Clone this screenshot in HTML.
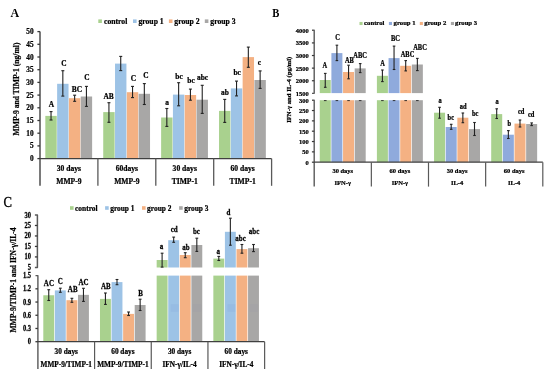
<!DOCTYPE html>
<html><head><meta charset="utf-8"><style>
html,body{margin:0;padding:0;background:#fff;}
svg{display:block;will-change:transform;filter:blur(0.3px);}
</style></head><body>
<svg width="550" height="379" viewBox="0 0 550 379">
<rect width="550" height="379" fill="#fff"/>
<g font-family="Liberation Serif, serif" font-weight="bold" fill="#000" stroke="#000" stroke-width="0.22">
<rect x="45.33" y="115.90" width="11.40" height="42.70" fill="#A9D18E" stroke="none"/>
<line x1="51.03" y1="111.60" x2="51.03" y2="120.00" stroke="#222" stroke-width="1.1"/>
<line x1="49.53" y1="111.60" x2="52.53" y2="111.60" stroke="#222" stroke-width="1.1"/>
<line x1="49.53" y1="120.00" x2="52.53" y2="120.00" stroke="#222" stroke-width="1.1"/>
<rect x="57.13" y="83.80" width="11.40" height="74.80" fill="#9DC3E6" stroke="none"/>
<line x1="62.83" y1="70.70" x2="62.83" y2="96.10" stroke="#222" stroke-width="1.1"/>
<line x1="61.33" y1="70.70" x2="64.33" y2="70.70" stroke="#222" stroke-width="1.1"/>
<line x1="61.33" y1="96.10" x2="64.33" y2="96.10" stroke="#222" stroke-width="1.1"/>
<rect x="68.93" y="98.20" width="11.40" height="60.40" fill="#F4B183" stroke="none"/>
<line x1="74.63" y1="95.20" x2="74.63" y2="101.30" stroke="#222" stroke-width="1.1"/>
<line x1="73.13" y1="95.20" x2="76.13" y2="95.20" stroke="#222" stroke-width="1.1"/>
<line x1="73.13" y1="101.30" x2="76.13" y2="101.30" stroke="#222" stroke-width="1.1"/>
<rect x="80.73" y="96.50" width="11.40" height="62.10" fill="#A8A7A6" stroke="none"/>
<line x1="86.43" y1="86.40" x2="86.43" y2="106.40" stroke="#222" stroke-width="1.1"/>
<line x1="84.93" y1="86.40" x2="87.93" y2="86.40" stroke="#222" stroke-width="1.1"/>
<line x1="84.93" y1="106.40" x2="87.93" y2="106.40" stroke="#222" stroke-width="1.1"/>
<rect x="103.23" y="112.10" width="11.40" height="46.50" fill="#A9D18E" stroke="none"/>
<line x1="108.93" y1="102.70" x2="108.93" y2="122.30" stroke="#222" stroke-width="1.1"/>
<line x1="107.43" y1="102.70" x2="110.43" y2="102.70" stroke="#222" stroke-width="1.1"/>
<line x1="107.43" y1="122.30" x2="110.43" y2="122.30" stroke="#222" stroke-width="1.1"/>
<rect x="115.03" y="63.60" width="11.40" height="95.00" fill="#9DC3E6" stroke="none"/>
<line x1="120.73" y1="56.40" x2="120.73" y2="70.60" stroke="#222" stroke-width="1.1"/>
<line x1="119.23" y1="56.40" x2="122.23" y2="56.40" stroke="#222" stroke-width="1.1"/>
<line x1="119.23" y1="70.60" x2="122.23" y2="70.60" stroke="#222" stroke-width="1.1"/>
<rect x="126.83" y="92.20" width="11.40" height="66.40" fill="#F4B183" stroke="none"/>
<line x1="132.53" y1="86.40" x2="132.53" y2="97.60" stroke="#222" stroke-width="1.1"/>
<line x1="131.03" y1="86.40" x2="134.03" y2="86.40" stroke="#222" stroke-width="1.1"/>
<line x1="131.03" y1="97.60" x2="134.03" y2="97.60" stroke="#222" stroke-width="1.1"/>
<rect x="138.63" y="93.80" width="11.40" height="64.80" fill="#A8A7A6" stroke="none"/>
<line x1="144.33" y1="83.60" x2="144.33" y2="104.50" stroke="#222" stroke-width="1.1"/>
<line x1="142.83" y1="83.60" x2="145.83" y2="83.60" stroke="#222" stroke-width="1.1"/>
<line x1="142.83" y1="104.50" x2="145.83" y2="104.50" stroke="#222" stroke-width="1.1"/>
<rect x="161.13" y="117.50" width="11.40" height="41.10" fill="#A9D18E" stroke="none"/>
<line x1="166.83" y1="108.50" x2="166.83" y2="126.40" stroke="#222" stroke-width="1.1"/>
<line x1="165.33" y1="108.50" x2="168.33" y2="108.50" stroke="#222" stroke-width="1.1"/>
<line x1="165.33" y1="126.40" x2="168.33" y2="126.40" stroke="#222" stroke-width="1.1"/>
<rect x="172.93" y="94.60" width="11.40" height="64.00" fill="#9DC3E6" stroke="none"/>
<line x1="178.63" y1="82.70" x2="178.63" y2="105.80" stroke="#222" stroke-width="1.1"/>
<line x1="177.13" y1="82.70" x2="180.13" y2="82.70" stroke="#222" stroke-width="1.1"/>
<line x1="177.13" y1="105.80" x2="180.13" y2="105.80" stroke="#222" stroke-width="1.1"/>
<rect x="184.73" y="95.00" width="11.40" height="63.60" fill="#F4B183" stroke="none"/>
<line x1="190.43" y1="89.10" x2="190.43" y2="100.20" stroke="#222" stroke-width="1.1"/>
<line x1="188.93" y1="89.10" x2="191.93" y2="89.10" stroke="#222" stroke-width="1.1"/>
<line x1="188.93" y1="100.20" x2="191.93" y2="100.20" stroke="#222" stroke-width="1.1"/>
<rect x="196.53" y="99.70" width="11.40" height="58.90" fill="#A8A7A6" stroke="none"/>
<line x1="202.23" y1="85.30" x2="202.23" y2="113.40" stroke="#222" stroke-width="1.1"/>
<line x1="200.73" y1="85.30" x2="203.73" y2="85.30" stroke="#222" stroke-width="1.1"/>
<line x1="200.73" y1="113.40" x2="203.73" y2="113.40" stroke="#222" stroke-width="1.1"/>
<rect x="219.03" y="110.90" width="11.40" height="47.70" fill="#A9D18E" stroke="none"/>
<line x1="224.73" y1="99.40" x2="224.73" y2="122.40" stroke="#222" stroke-width="1.1"/>
<line x1="223.23" y1="99.40" x2="226.23" y2="99.40" stroke="#222" stroke-width="1.1"/>
<line x1="223.23" y1="122.40" x2="226.23" y2="122.40" stroke="#222" stroke-width="1.1"/>
<rect x="230.83" y="88.40" width="11.40" height="70.20" fill="#9DC3E6" stroke="none"/>
<line x1="236.53" y1="81.10" x2="236.53" y2="95.90" stroke="#222" stroke-width="1.1"/>
<line x1="235.03" y1="81.10" x2="238.03" y2="81.10" stroke="#222" stroke-width="1.1"/>
<line x1="235.03" y1="95.90" x2="238.03" y2="95.90" stroke="#222" stroke-width="1.1"/>
<rect x="242.63" y="57.10" width="11.40" height="101.50" fill="#F4B183" stroke="none"/>
<line x1="248.33" y1="47.10" x2="248.33" y2="67.30" stroke="#222" stroke-width="1.1"/>
<line x1="246.83" y1="47.10" x2="249.83" y2="47.10" stroke="#222" stroke-width="1.1"/>
<line x1="246.83" y1="67.30" x2="249.83" y2="67.30" stroke="#222" stroke-width="1.1"/>
<rect x="254.43" y="80.00" width="11.40" height="78.60" fill="#A8A7A6" stroke="none"/>
<line x1="260.13" y1="70.90" x2="260.13" y2="88.40" stroke="#222" stroke-width="1.1"/>
<line x1="258.63" y1="70.90" x2="261.63" y2="70.90" stroke="#222" stroke-width="1.1"/>
<line x1="258.63" y1="88.40" x2="261.63" y2="88.40" stroke="#222" stroke-width="1.1"/>
<line x1="40.00" y1="31.60" x2="40.00" y2="185.80" stroke="#595959" stroke-width="1.6"/>
<line x1="40.00" y1="158.60" x2="271.60" y2="158.60" stroke="#404040" stroke-width="1.4"/>
<line x1="97.90" y1="158.60" x2="97.90" y2="185.80" stroke="#595959" stroke-width="1.3"/>
<line x1="155.80" y1="158.60" x2="155.80" y2="185.80" stroke="#595959" stroke-width="1.3"/>
<line x1="213.70" y1="158.60" x2="213.70" y2="185.80" stroke="#595959" stroke-width="1.3"/>
<line x1="271.60" y1="158.60" x2="271.60" y2="185.80" stroke="#595959" stroke-width="1.3"/>
<line x1="37.40" y1="158.60" x2="40.00" y2="158.60" stroke="#383838" stroke-width="1.3"/>
<text x="33.60" y="161.10" font-size="7.3" text-anchor="end">0</text>
<line x1="37.40" y1="145.90" x2="40.00" y2="145.90" stroke="#383838" stroke-width="1.3"/>
<text x="33.60" y="148.40" font-size="7.3" text-anchor="end">5</text>
<line x1="37.40" y1="133.20" x2="40.00" y2="133.20" stroke="#383838" stroke-width="1.3"/>
<text x="33.60" y="135.70" font-size="7.3" text-anchor="end">10</text>
<line x1="37.40" y1="120.50" x2="40.00" y2="120.50" stroke="#383838" stroke-width="1.3"/>
<text x="33.60" y="123.00" font-size="7.3" text-anchor="end">15</text>
<line x1="37.40" y1="107.80" x2="40.00" y2="107.80" stroke="#383838" stroke-width="1.3"/>
<text x="33.60" y="110.30" font-size="7.3" text-anchor="end">20</text>
<line x1="37.40" y1="95.10" x2="40.00" y2="95.10" stroke="#383838" stroke-width="1.3"/>
<text x="33.60" y="97.60" font-size="7.3" text-anchor="end">25</text>
<line x1="37.40" y1="82.40" x2="40.00" y2="82.40" stroke="#383838" stroke-width="1.3"/>
<text x="33.60" y="84.90" font-size="7.3" text-anchor="end">30</text>
<line x1="37.40" y1="69.70" x2="40.00" y2="69.70" stroke="#383838" stroke-width="1.3"/>
<text x="33.60" y="72.20" font-size="7.3" text-anchor="end">35</text>
<line x1="37.40" y1="57.00" x2="40.00" y2="57.00" stroke="#383838" stroke-width="1.3"/>
<text x="33.60" y="59.50" font-size="7.3" text-anchor="end">40</text>
<line x1="37.40" y1="44.30" x2="40.00" y2="44.30" stroke="#383838" stroke-width="1.3"/>
<text x="33.60" y="46.80" font-size="7.3" text-anchor="end">45</text>
<line x1="37.40" y1="31.60" x2="40.00" y2="31.60" stroke="#383838" stroke-width="1.3"/>
<text x="33.60" y="34.10" font-size="7.3" text-anchor="end">50</text>
<text x="51.30" y="106.50" font-size="7.4" text-anchor="middle">A</text>
<text x="63.90" y="66.40" font-size="7.4" text-anchor="middle">C</text>
<text x="77.00" y="91.50" font-size="7.4" text-anchor="middle">BC</text>
<text x="86.90" y="80.30" font-size="7.4" text-anchor="middle">C</text>
<text x="108.60" y="98.80" font-size="7.4" text-anchor="middle">AB</text>
<text x="133.50" y="81.10" font-size="7.4" text-anchor="middle">C</text>
<text x="145.90" y="77.90" font-size="7.4" text-anchor="middle">C</text>
<text x="167.10" y="105.20" font-size="7.4" text-anchor="middle">a</text>
<text x="179.00" y="78.90" font-size="7.4" text-anchor="middle">bc</text>
<text x="191.00" y="82.50" font-size="7.4" text-anchor="middle">bc</text>
<text x="202.60" y="79.50" font-size="7.4" text-anchor="middle">abc</text>
<text x="224.90" y="95.00" font-size="7.4" text-anchor="middle">ab</text>
<text x="237.20" y="74.50" font-size="7.4" text-anchor="middle">bc</text>
<text x="259.30" y="64.70" font-size="7.4" text-anchor="middle">c</text>
<text x="68.95" y="170.70" font-size="7.6" text-anchor="middle">30 days</text>
<text x="68.95" y="184.40" font-size="7.6" text-anchor="middle">MMP-9</text>
<text x="126.85" y="170.70" font-size="7.6" text-anchor="middle">60days</text>
<text x="126.85" y="184.40" font-size="7.6" text-anchor="middle">MMP-9</text>
<text x="184.75" y="170.70" font-size="7.6" text-anchor="middle">30 days</text>
<text x="184.75" y="184.40" font-size="7.6" text-anchor="middle">TIMP-1</text>
<text x="242.65" y="170.70" font-size="7.6" text-anchor="middle">60 days</text>
<text x="242.65" y="184.40" font-size="7.6" text-anchor="middle">TIMP-1</text>
<rect x="98.30" y="19.40" width="3.60" height="3.60" fill="#A9D18E" stroke="none"/>
<text x="104.00" y="23.60" font-size="7.7" text-anchor="start">control</text>
<rect x="133.00" y="19.40" width="3.60" height="3.60" fill="#9DC3E6" stroke="none"/>
<text x="138.40" y="23.60" font-size="7.7" text-anchor="start">group 1</text>
<rect x="168.90" y="19.40" width="3.60" height="3.60" fill="#F4B183" stroke="none"/>
<text x="174.30" y="23.60" font-size="7.7" text-anchor="start">group 2</text>
<rect x="204.80" y="19.40" width="3.60" height="3.60" fill="#A8A7A6" stroke="none"/>
<text x="210.30" y="23.60" font-size="7.7" text-anchor="start">group 3</text>
<text transform="translate(10.6,16.8) scale(0.9,1)" font-size="13.3" stroke-width="0">A</text>
<text transform="translate(19.0,89) rotate(-90)" font-size="7.6" text-anchor="middle">MMP-9 and TIMP-1 (ng/ml)</text>
<rect x="319.75" y="80.00" width="11.00" height="13.10" fill="#A9D18E" stroke="none"/>
<line x1="325.25" y1="73.40" x2="325.25" y2="87.30" stroke="#222" stroke-width="1.1"/>
<line x1="323.95" y1="73.40" x2="326.55" y2="73.40" stroke="#222" stroke-width="1.1"/>
<line x1="323.95" y1="87.30" x2="326.55" y2="87.30" stroke="#222" stroke-width="1.1"/>
<rect x="331.40" y="53.10" width="11.00" height="40.00" fill="#8FAADC" stroke="none"/>
<line x1="336.90" y1="45.20" x2="336.90" y2="60.60" stroke="#222" stroke-width="1.1"/>
<line x1="335.60" y1="45.20" x2="338.20" y2="45.20" stroke="#222" stroke-width="1.1"/>
<line x1="335.60" y1="60.60" x2="338.20" y2="60.60" stroke="#222" stroke-width="1.1"/>
<rect x="343.05" y="72.00" width="11.00" height="21.10" fill="#F4B183" stroke="none"/>
<line x1="348.55" y1="65.20" x2="348.55" y2="78.80" stroke="#222" stroke-width="1.1"/>
<line x1="347.25" y1="65.20" x2="349.85" y2="65.20" stroke="#222" stroke-width="1.1"/>
<line x1="347.25" y1="78.80" x2="349.85" y2="78.80" stroke="#222" stroke-width="1.1"/>
<rect x="354.70" y="68.40" width="11.00" height="24.70" fill="#A8A7A6" stroke="none"/>
<line x1="360.20" y1="63.60" x2="360.20" y2="72.60" stroke="#222" stroke-width="1.1"/>
<line x1="358.90" y1="63.60" x2="361.50" y2="63.60" stroke="#222" stroke-width="1.1"/>
<line x1="358.90" y1="72.60" x2="361.50" y2="72.60" stroke="#222" stroke-width="1.1"/>
<rect x="376.90" y="75.80" width="11.00" height="17.30" fill="#A9D18E" stroke="none"/>
<line x1="382.40" y1="70.00" x2="382.40" y2="81.60" stroke="#222" stroke-width="1.1"/>
<line x1="381.10" y1="70.00" x2="383.70" y2="70.00" stroke="#222" stroke-width="1.1"/>
<line x1="381.10" y1="81.60" x2="383.70" y2="81.60" stroke="#222" stroke-width="1.1"/>
<rect x="388.55" y="58.10" width="11.00" height="35.00" fill="#8FAADC" stroke="none"/>
<line x1="394.05" y1="46.10" x2="394.05" y2="69.50" stroke="#222" stroke-width="1.1"/>
<line x1="392.75" y1="46.10" x2="395.35" y2="46.10" stroke="#222" stroke-width="1.1"/>
<line x1="392.75" y1="69.50" x2="395.35" y2="69.50" stroke="#222" stroke-width="1.1"/>
<rect x="400.20" y="65.80" width="11.00" height="27.30" fill="#F4B183" stroke="none"/>
<line x1="405.70" y1="60.60" x2="405.70" y2="70.90" stroke="#222" stroke-width="1.1"/>
<line x1="404.40" y1="60.60" x2="407.00" y2="60.60" stroke="#222" stroke-width="1.1"/>
<line x1="404.40" y1="70.90" x2="407.00" y2="70.90" stroke="#222" stroke-width="1.1"/>
<rect x="411.85" y="64.50" width="11.00" height="28.60" fill="#A8A7A6" stroke="none"/>
<line x1="417.35" y1="58.40" x2="417.35" y2="70.60" stroke="#222" stroke-width="1.1"/>
<line x1="416.05" y1="58.40" x2="418.65" y2="58.40" stroke="#222" stroke-width="1.1"/>
<line x1="416.05" y1="70.60" x2="418.65" y2="70.60" stroke="#222" stroke-width="1.1"/>
<rect x="319.75" y="100.20" width="11.00" height="62.00" fill="#A9D18E" stroke="none"/>
<line x1="323.95" y1="100.60" x2="326.55" y2="100.60" stroke="#222" stroke-width="0.9"/>
<rect x="331.40" y="100.20" width="11.00" height="62.00" fill="#8FAADC" stroke="none"/>
<line x1="335.60" y1="100.60" x2="338.20" y2="100.60" stroke="#222" stroke-width="0.9"/>
<rect x="343.05" y="100.20" width="11.00" height="62.00" fill="#F4B183" stroke="none"/>
<line x1="347.25" y1="100.60" x2="349.85" y2="100.60" stroke="#222" stroke-width="0.9"/>
<rect x="354.70" y="100.20" width="11.00" height="62.00" fill="#A8A7A6" stroke="none"/>
<line x1="358.90" y1="100.60" x2="361.50" y2="100.60" stroke="#222" stroke-width="0.9"/>
<rect x="376.90" y="100.20" width="11.00" height="62.00" fill="#A9D18E" stroke="none"/>
<line x1="381.10" y1="100.60" x2="383.70" y2="100.60" stroke="#222" stroke-width="0.9"/>
<rect x="388.55" y="100.20" width="11.00" height="62.00" fill="#8FAADC" stroke="none"/>
<line x1="392.75" y1="100.60" x2="395.35" y2="100.60" stroke="#222" stroke-width="0.9"/>
<rect x="400.20" y="100.20" width="11.00" height="62.00" fill="#F4B183" stroke="none"/>
<line x1="404.40" y1="100.60" x2="407.00" y2="100.60" stroke="#222" stroke-width="0.9"/>
<rect x="411.85" y="100.20" width="11.00" height="62.00" fill="#A8A7A6" stroke="none"/>
<line x1="416.05" y1="100.60" x2="418.65" y2="100.60" stroke="#222" stroke-width="0.9"/>
<rect x="434.05" y="112.70" width="11.00" height="49.50" fill="#A9D18E" stroke="none"/>
<line x1="439.55" y1="107.30" x2="439.55" y2="118.20" stroke="#222" stroke-width="1.1"/>
<line x1="438.25" y1="107.30" x2="440.85" y2="107.30" stroke="#222" stroke-width="1.1"/>
<line x1="438.25" y1="118.20" x2="440.85" y2="118.20" stroke="#222" stroke-width="1.1"/>
<rect x="445.70" y="127.00" width="11.00" height="35.20" fill="#8FAADC" stroke="none"/>
<line x1="451.20" y1="124.30" x2="451.20" y2="129.30" stroke="#222" stroke-width="1.1"/>
<line x1="449.90" y1="124.30" x2="452.50" y2="124.30" stroke="#222" stroke-width="1.1"/>
<line x1="449.90" y1="129.30" x2="452.50" y2="129.30" stroke="#222" stroke-width="1.1"/>
<rect x="457.35" y="117.70" width="11.00" height="44.50" fill="#F4B183" stroke="none"/>
<line x1="462.85" y1="113.00" x2="462.85" y2="122.70" stroke="#222" stroke-width="1.1"/>
<line x1="461.55" y1="113.00" x2="464.15" y2="113.00" stroke="#222" stroke-width="1.1"/>
<line x1="461.55" y1="122.70" x2="464.15" y2="122.70" stroke="#222" stroke-width="1.1"/>
<rect x="469.00" y="129.10" width="11.00" height="33.10" fill="#A8A7A6" stroke="none"/>
<line x1="474.50" y1="122.50" x2="474.50" y2="135.50" stroke="#222" stroke-width="1.1"/>
<line x1="473.20" y1="122.50" x2="475.80" y2="122.50" stroke="#222" stroke-width="1.1"/>
<line x1="473.20" y1="135.50" x2="475.80" y2="135.50" stroke="#222" stroke-width="1.1"/>
<rect x="491.20" y="114.10" width="11.00" height="48.10" fill="#A9D18E" stroke="none"/>
<line x1="496.70" y1="108.80" x2="496.70" y2="118.50" stroke="#222" stroke-width="1.1"/>
<line x1="495.40" y1="108.80" x2="498.00" y2="108.80" stroke="#222" stroke-width="1.1"/>
<line x1="495.40" y1="118.50" x2="498.00" y2="118.50" stroke="#222" stroke-width="1.1"/>
<rect x="502.85" y="134.70" width="11.00" height="27.50" fill="#8FAADC" stroke="none"/>
<line x1="508.35" y1="130.60" x2="508.35" y2="138.50" stroke="#222" stroke-width="1.1"/>
<line x1="507.05" y1="130.60" x2="509.65" y2="130.60" stroke="#222" stroke-width="1.1"/>
<line x1="507.05" y1="138.50" x2="509.65" y2="138.50" stroke="#222" stroke-width="1.1"/>
<rect x="514.50" y="123.60" width="11.00" height="38.60" fill="#F4B183" stroke="none"/>
<line x1="520.00" y1="120.00" x2="520.00" y2="127.00" stroke="#222" stroke-width="1.1"/>
<line x1="518.70" y1="120.00" x2="521.30" y2="120.00" stroke="#222" stroke-width="1.1"/>
<line x1="518.70" y1="127.00" x2="521.30" y2="127.00" stroke="#222" stroke-width="1.1"/>
<rect x="526.15" y="124.00" width="11.00" height="38.20" fill="#A8A7A6" stroke="none"/>
<line x1="531.65" y1="122.90" x2="531.65" y2="125.60" stroke="#222" stroke-width="1.1"/>
<line x1="530.35" y1="122.90" x2="532.95" y2="122.90" stroke="#222" stroke-width="1.1"/>
<line x1="530.35" y1="125.60" x2="532.95" y2="125.60" stroke="#222" stroke-width="1.1"/>
<path d="M312.00,30.30 L314.20,30.30 L314.20,93.35 L312.00,93.35" fill="none" stroke="#595959" stroke-width="1.4" stroke-linejoin="round"/>
<path d="M312.00,100.20 L314.20,100.20 L314.20,186.6" fill="none" stroke="#595959" stroke-width="1.4" stroke-linejoin="round"/>
<line x1="314.20" y1="162.20" x2="542.80" y2="162.20" stroke="#404040" stroke-width="1.3"/>
<line x1="371.35" y1="162.20" x2="371.35" y2="186.60" stroke="#595959" stroke-width="1.2"/>
<line x1="428.50" y1="162.20" x2="428.50" y2="186.60" stroke="#595959" stroke-width="1.2"/>
<line x1="485.65" y1="162.20" x2="485.65" y2="186.60" stroke="#595959" stroke-width="1.2"/>
<line x1="542.80" y1="162.20" x2="542.80" y2="186.60" stroke="#595959" stroke-width="1.2"/>
<text transform="translate(308.70,164.65) scale(1.0,1.1)" font-size="6.5" text-anchor="end">0</text>
<line x1="311.90" y1="151.87" x2="314.20" y2="151.87" stroke="#383838" stroke-width="1.2"/>
<text transform="translate(308.70,154.32) scale(1.0,1.1)" font-size="6.5" text-anchor="end">50</text>
<line x1="311.90" y1="141.53" x2="314.20" y2="141.53" stroke="#383838" stroke-width="1.2"/>
<text transform="translate(308.70,143.98) scale(1.0,1.1)" font-size="6.5" text-anchor="end">100</text>
<line x1="311.90" y1="131.20" x2="314.20" y2="131.20" stroke="#383838" stroke-width="1.2"/>
<text transform="translate(308.70,133.65) scale(1.0,1.1)" font-size="6.5" text-anchor="end">150</text>
<line x1="311.90" y1="120.87" x2="314.20" y2="120.87" stroke="#383838" stroke-width="1.2"/>
<text transform="translate(308.70,123.32) scale(1.0,1.1)" font-size="6.5" text-anchor="end">200</text>
<line x1="311.90" y1="110.53" x2="314.20" y2="110.53" stroke="#383838" stroke-width="1.2"/>
<text transform="translate(308.70,112.98) scale(1.0,1.1)" font-size="6.5" text-anchor="end">250</text>
<text transform="translate(308.70,102.65) scale(1.0,1.1)" font-size="6.5" text-anchor="end">300</text>
<line x1="311.90" y1="162.20" x2="314.20" y2="162.20" stroke="#383838" stroke-width="1.2"/>
<text transform="translate(308.70,95.80) scale(1.0,1.1)" font-size="6.5" text-anchor="end">1500</text>
<line x1="311.90" y1="80.74" x2="314.20" y2="80.74" stroke="#383838" stroke-width="1.2"/>
<text transform="translate(308.70,83.19) scale(1.0,1.1)" font-size="6.5" text-anchor="end">2000</text>
<line x1="311.90" y1="68.13" x2="314.20" y2="68.13" stroke="#383838" stroke-width="1.2"/>
<text transform="translate(308.70,70.58) scale(1.0,1.1)" font-size="6.5" text-anchor="end">2500</text>
<line x1="311.90" y1="55.52" x2="314.20" y2="55.52" stroke="#383838" stroke-width="1.2"/>
<text transform="translate(308.70,57.97) scale(1.0,1.1)" font-size="6.5" text-anchor="end">3000</text>
<line x1="311.90" y1="42.91" x2="314.20" y2="42.91" stroke="#383838" stroke-width="1.2"/>
<text transform="translate(308.70,45.36) scale(1.0,1.1)" font-size="6.5" text-anchor="end">3500</text>
<text transform="translate(308.70,32.75) scale(1.0,1.1)" font-size="6.5" text-anchor="end">4000</text>
<text transform="translate(324.90,68.20) scale(1.0,1.12)" font-size="6.4" text-anchor="middle">A</text>
<text transform="translate(337.50,40.40) scale(1.0,1.12)" font-size="6.4" text-anchor="middle">C</text>
<text transform="translate(349.40,62.70) scale(1.0,1.12)" font-size="6.4" text-anchor="middle">AB</text>
<text transform="translate(360.10,57.90) scale(1.0,1.12)" font-size="6.4" text-anchor="middle">ABC</text>
<text transform="translate(382.60,65.60) scale(1.0,1.12)" font-size="6.4" text-anchor="middle">A</text>
<text transform="translate(395.50,40.90) scale(1.0,1.12)" font-size="6.4" text-anchor="middle">BC</text>
<text transform="translate(407.50,56.50) scale(1.0,1.12)" font-size="6.4" text-anchor="middle">ABC</text>
<text transform="translate(420.00,50.30) scale(1.0,1.12)" font-size="6.4" text-anchor="middle">ABC</text>
<text transform="translate(440.00,102.70) scale(1.0,1.12)" font-size="6.4" text-anchor="middle">a</text>
<text transform="translate(450.80,119.70) scale(1.0,1.12)" font-size="6.4" text-anchor="middle">bc</text>
<text transform="translate(463.20,108.80) scale(1.0,1.12)" font-size="6.4" text-anchor="middle">ad</text>
<text transform="translate(475.10,115.50) scale(1.0,1.12)" font-size="6.4" text-anchor="middle">bc</text>
<text transform="translate(497.10,103.90) scale(1.0,1.12)" font-size="6.4" text-anchor="middle">a</text>
<text transform="translate(509.40,126.10) scale(1.0,1.12)" font-size="6.4" text-anchor="middle">b</text>
<text transform="translate(521.10,113.60) scale(1.0,1.12)" font-size="6.4" text-anchor="middle">cd</text>
<text transform="translate(531.10,116.80) scale(1.0,1.12)" font-size="6.4" text-anchor="middle">cd</text>
<text x="342.77" y="172.80" font-size="6.5" text-anchor="middle">30 days</text>
<text x="342.77" y="184.80" font-size="6.5" text-anchor="middle">IFN-&#947;</text>
<text x="399.92" y="172.80" font-size="6.5" text-anchor="middle">60 days</text>
<text x="399.92" y="184.80" font-size="6.5" text-anchor="middle">IFN-&#947;</text>
<text x="457.07" y="172.80" font-size="6.5" text-anchor="middle">30 days</text>
<text x="457.07" y="184.80" font-size="6.5" text-anchor="middle">IL-4</text>
<text x="514.23" y="172.80" font-size="6.5" text-anchor="middle">60 days</text>
<text x="514.23" y="184.80" font-size="6.5" text-anchor="middle">IL-4</text>
<rect x="359.50" y="21.95" width="3.10" height="3.10" fill="#A9D18E" stroke="none"/>
<text x="364.10" y="24.90" font-size="6.7" text-anchor="start">control</text>
<rect x="388.90" y="21.95" width="3.10" height="3.10" fill="#8FAADC" stroke="none"/>
<text x="393.60" y="24.90" font-size="6.7" text-anchor="start">group 1</text>
<rect x="419.80" y="21.95" width="3.10" height="3.10" fill="#F4B183" stroke="none"/>
<text x="424.30" y="24.90" font-size="6.7" text-anchor="start">group 2</text>
<rect x="450.90" y="21.95" width="3.10" height="3.10" fill="#A8A7A6" stroke="none"/>
<text x="455.10" y="24.90" font-size="6.7" text-anchor="start">group 3</text>
<text transform="translate(272.2,16.8) scale(0.8,1)" font-size="13.3" stroke-width="0">B</text>
<text transform="translate(291.2,89.8) rotate(-90)" font-size="6.7" text-anchor="middle">IFN-&#947; and IL-4 (pg/ml)</text>
<rect x="43.30" y="295.25" width="10.90" height="46.45" fill="#A9D18E" stroke="none"/>
<line x1="48.75" y1="289.70" x2="48.75" y2="300.50" stroke="#222" stroke-width="1.1"/>
<line x1="47.35" y1="289.70" x2="50.15" y2="289.70" stroke="#222" stroke-width="1.1"/>
<line x1="47.35" y1="300.50" x2="50.15" y2="300.50" stroke="#222" stroke-width="1.1"/>
<rect x="54.87" y="290.40" width="10.90" height="51.30" fill="#9DC3E6" stroke="none"/>
<line x1="60.32" y1="288.20" x2="60.32" y2="292.30" stroke="#222" stroke-width="1.1"/>
<line x1="58.92" y1="288.20" x2="61.72" y2="288.20" stroke="#222" stroke-width="1.1"/>
<line x1="58.92" y1="292.30" x2="61.72" y2="292.30" stroke="#222" stroke-width="1.1"/>
<rect x="66.44" y="300.20" width="10.90" height="41.50" fill="#F4B183" stroke="none"/>
<line x1="71.89" y1="298.30" x2="71.89" y2="302.30" stroke="#222" stroke-width="1.1"/>
<line x1="70.49" y1="298.30" x2="73.29" y2="298.30" stroke="#222" stroke-width="1.1"/>
<line x1="70.49" y1="302.30" x2="73.29" y2="302.30" stroke="#222" stroke-width="1.1"/>
<rect x="78.01" y="294.85" width="10.90" height="46.85" fill="#A8A7A6" stroke="none"/>
<line x1="83.46" y1="288.30" x2="83.46" y2="301.40" stroke="#222" stroke-width="1.1"/>
<line x1="82.06" y1="288.30" x2="84.86" y2="288.30" stroke="#222" stroke-width="1.1"/>
<line x1="82.06" y1="301.40" x2="84.86" y2="301.40" stroke="#222" stroke-width="1.1"/>
<rect x="99.98" y="298.90" width="10.90" height="42.80" fill="#A9D18E" stroke="none"/>
<line x1="105.43" y1="293.00" x2="105.43" y2="304.40" stroke="#222" stroke-width="1.1"/>
<line x1="104.03" y1="293.00" x2="106.83" y2="293.00" stroke="#222" stroke-width="1.1"/>
<line x1="104.03" y1="304.40" x2="106.83" y2="304.40" stroke="#222" stroke-width="1.1"/>
<rect x="111.55" y="282.10" width="10.90" height="59.60" fill="#9DC3E6" stroke="none"/>
<line x1="117.00" y1="279.50" x2="117.00" y2="284.70" stroke="#222" stroke-width="1.1"/>
<line x1="115.60" y1="279.50" x2="118.40" y2="279.50" stroke="#222" stroke-width="1.1"/>
<line x1="115.60" y1="284.70" x2="118.40" y2="284.70" stroke="#222" stroke-width="1.1"/>
<rect x="123.12" y="313.90" width="10.90" height="27.80" fill="#F4B183" stroke="none"/>
<line x1="128.57" y1="312.00" x2="128.57" y2="315.50" stroke="#222" stroke-width="1.1"/>
<line x1="127.17" y1="312.00" x2="129.97" y2="312.00" stroke="#222" stroke-width="1.1"/>
<line x1="127.17" y1="315.50" x2="129.97" y2="315.50" stroke="#222" stroke-width="1.1"/>
<rect x="134.69" y="305.00" width="10.90" height="36.70" fill="#A8A7A6" stroke="none"/>
<line x1="140.14" y1="299.20" x2="140.14" y2="310.50" stroke="#222" stroke-width="1.1"/>
<line x1="138.74" y1="299.20" x2="141.54" y2="299.20" stroke="#222" stroke-width="1.1"/>
<line x1="138.74" y1="310.50" x2="141.54" y2="310.50" stroke="#222" stroke-width="1.1"/>
<rect x="156.66" y="260.00" width="10.90" height="7.50" fill="#A9D18E" stroke="none"/>
<line x1="162.11" y1="253.20" x2="162.11" y2="267.10" stroke="#222" stroke-width="1.1"/>
<line x1="160.71" y1="253.20" x2="163.51" y2="253.20" stroke="#222" stroke-width="1.1"/>
<line x1="160.71" y1="267.10" x2="163.51" y2="267.10" stroke="#222" stroke-width="1.1"/>
<rect x="168.23" y="240.20" width="10.90" height="27.30" fill="#9DC3E6" stroke="none"/>
<line x1="173.68" y1="237.10" x2="173.68" y2="242.30" stroke="#222" stroke-width="1.1"/>
<line x1="172.28" y1="237.10" x2="175.08" y2="237.10" stroke="#222" stroke-width="1.1"/>
<line x1="172.28" y1="242.30" x2="175.08" y2="242.30" stroke="#222" stroke-width="1.1"/>
<rect x="179.80" y="255.00" width="10.90" height="12.50" fill="#F4B183" stroke="none"/>
<line x1="185.25" y1="252.70" x2="185.25" y2="257.70" stroke="#222" stroke-width="1.1"/>
<line x1="183.85" y1="252.70" x2="186.65" y2="252.70" stroke="#222" stroke-width="1.1"/>
<line x1="183.85" y1="257.70" x2="186.65" y2="257.70" stroke="#222" stroke-width="1.1"/>
<rect x="191.37" y="245.00" width="10.90" height="22.50" fill="#A8A7A6" stroke="none"/>
<line x1="196.82" y1="238.20" x2="196.82" y2="251.40" stroke="#222" stroke-width="1.1"/>
<line x1="195.42" y1="238.20" x2="198.22" y2="238.20" stroke="#222" stroke-width="1.1"/>
<line x1="195.42" y1="251.40" x2="198.22" y2="251.40" stroke="#222" stroke-width="1.1"/>
<rect x="213.34" y="258.60" width="10.90" height="8.90" fill="#A9D18E" stroke="none"/>
<line x1="218.79" y1="256.40" x2="218.79" y2="260.50" stroke="#222" stroke-width="1.1"/>
<line x1="217.39" y1="256.40" x2="220.19" y2="256.40" stroke="#222" stroke-width="1.1"/>
<line x1="217.39" y1="260.50" x2="220.19" y2="260.50" stroke="#222" stroke-width="1.1"/>
<rect x="224.91" y="231.80" width="10.90" height="35.70" fill="#9DC3E6" stroke="none"/>
<line x1="230.36" y1="218.20" x2="230.36" y2="245.20" stroke="#222" stroke-width="1.1"/>
<line x1="228.96" y1="218.20" x2="231.76" y2="218.20" stroke="#222" stroke-width="1.1"/>
<line x1="228.96" y1="245.20" x2="231.76" y2="245.20" stroke="#222" stroke-width="1.1"/>
<rect x="236.48" y="249.10" width="10.90" height="18.40" fill="#F4B183" stroke="none"/>
<line x1="241.93" y1="244.50" x2="241.93" y2="253.20" stroke="#222" stroke-width="1.1"/>
<line x1="240.53" y1="244.50" x2="243.33" y2="244.50" stroke="#222" stroke-width="1.1"/>
<line x1="240.53" y1="253.20" x2="243.33" y2="253.20" stroke="#222" stroke-width="1.1"/>
<rect x="248.05" y="248.20" width="10.90" height="19.30" fill="#A8A7A6" stroke="none"/>
<line x1="253.50" y1="244.50" x2="253.50" y2="251.60" stroke="#222" stroke-width="1.1"/>
<line x1="252.10" y1="244.50" x2="254.90" y2="244.50" stroke="#222" stroke-width="1.1"/>
<line x1="252.10" y1="251.60" x2="254.90" y2="251.60" stroke="#222" stroke-width="1.1"/>
<rect x="156.66" y="275.60" width="10.90" height="66.10" fill="#A9D18E" stroke="none"/>
<rect x="168.23" y="275.60" width="10.90" height="66.10" fill="#9DC3E6" stroke="none"/>
<rect x="179.80" y="275.60" width="10.90" height="66.10" fill="#F4B183" stroke="none"/>
<rect x="191.37" y="275.60" width="10.90" height="66.10" fill="#A8A7A6" stroke="none"/>
<rect x="170.73" y="304.2" width="8.0" height="7.6" fill="#7f9fd8" fill-opacity="0.18" stroke="none"/>
<rect x="192.87" y="304.2" width="8.5" height="7.6" fill="#9a9aa6" fill-opacity="0.18" stroke="none"/>
<rect x="213.34" y="275.60" width="10.90" height="66.10" fill="#A9D18E" stroke="none"/>
<rect x="224.91" y="275.60" width="10.90" height="66.10" fill="#9DC3E6" stroke="none"/>
<rect x="236.48" y="275.60" width="10.90" height="66.10" fill="#F4B183" stroke="none"/>
<rect x="248.05" y="275.60" width="10.90" height="66.10" fill="#A8A7A6" stroke="none"/>
<rect x="227.41" y="304.2" width="8.0" height="7.6" fill="#7f9fd8" fill-opacity="0.18" stroke="none"/>
<rect x="249.55" y="304.2" width="8.5" height="7.6" fill="#9a9aa6" fill-opacity="0.18" stroke="none"/>
<path d="M34.90,215.00 L37.40,215.00 L37.40,267.40 L34.90,267.40" fill="none" stroke="#595959" stroke-width="1.5" stroke-linejoin="round"/>
<path d="M35.50,275.60 L37.90,275.60 L37.90,369.0" fill="none" stroke="#595959" stroke-width="1.4" stroke-linejoin="round"/>
<line x1="37.90" y1="341.70" x2="264.62" y2="341.70" stroke="#404040" stroke-width="1.3"/>
<line x1="94.58" y1="341.70" x2="94.58" y2="369.00" stroke="#595959" stroke-width="1.2"/>
<line x1="151.26" y1="341.70" x2="151.26" y2="369.00" stroke="#595959" stroke-width="1.2"/>
<line x1="207.94" y1="341.70" x2="207.94" y2="369.00" stroke="#595959" stroke-width="1.2"/>
<line x1="264.62" y1="341.70" x2="264.62" y2="369.00" stroke="#595959" stroke-width="1.2"/>
<text transform="translate(31.10,344.20) scale(1.0,1.22)" font-size="6.5" text-anchor="end">0</text>
<line x1="37.90" y1="328.48" x2="35.40" y2="328.48" stroke="#383838" stroke-width="1.3"/>
<text transform="translate(31.10,330.98) scale(1.0,1.22)" font-size="6.5" text-anchor="end">0.3</text>
<line x1="37.90" y1="315.26" x2="35.40" y2="315.26" stroke="#383838" stroke-width="1.3"/>
<text transform="translate(31.10,317.76) scale(1.0,1.22)" font-size="6.5" text-anchor="end">0.6</text>
<line x1="37.90" y1="302.04" x2="35.40" y2="302.04" stroke="#383838" stroke-width="1.3"/>
<text transform="translate(31.10,304.54) scale(1.0,1.22)" font-size="6.5" text-anchor="end">0.9</text>
<line x1="37.90" y1="288.82" x2="35.40" y2="288.82" stroke="#383838" stroke-width="1.3"/>
<text transform="translate(31.10,291.32) scale(1.0,1.22)" font-size="6.5" text-anchor="end">1.2</text>
<text transform="translate(31.10,278.10) scale(1.0,1.22)" font-size="6.5" text-anchor="end">1.5</text>
<line x1="35.40" y1="341.70" x2="37.90" y2="341.70" stroke="#383838" stroke-width="1.3"/>
<text transform="translate(31.10,269.90) scale(1.0,1.22)" font-size="6.5" text-anchor="end">5</text>
<line x1="37.40" y1="256.92" x2="34.90" y2="256.92" stroke="#383838" stroke-width="1.3"/>
<text transform="translate(31.10,259.42) scale(1.0,1.22)" font-size="6.5" text-anchor="end">10</text>
<line x1="37.40" y1="246.44" x2="34.90" y2="246.44" stroke="#383838" stroke-width="1.3"/>
<text transform="translate(31.10,248.94) scale(1.0,1.22)" font-size="6.5" text-anchor="end">15</text>
<line x1="37.40" y1="235.96" x2="34.90" y2="235.96" stroke="#383838" stroke-width="1.3"/>
<text transform="translate(31.10,238.46) scale(1.0,1.22)" font-size="6.5" text-anchor="end">20</text>
<line x1="37.40" y1="225.48" x2="34.90" y2="225.48" stroke="#383838" stroke-width="1.3"/>
<text transform="translate(31.10,227.98) scale(1.0,1.22)" font-size="6.5" text-anchor="end">25</text>
<text transform="translate(31.10,217.50) scale(1.0,1.22)" font-size="6.5" text-anchor="end">30</text>
<text transform="translate(48.90,285.60) scale(1.0,1.15)" font-size="7.0" text-anchor="middle">AC</text>
<text transform="translate(60.20,283.80) scale(1.0,1.15)" font-size="7.0" text-anchor="middle">C</text>
<text transform="translate(72.70,291.80) scale(1.0,1.15)" font-size="7.0" text-anchor="middle">AB</text>
<text transform="translate(83.60,284.90) scale(1.0,1.15)" font-size="7.0" text-anchor="middle">AC</text>
<text transform="translate(105.90,288.80) scale(1.0,1.15)" font-size="7.0" text-anchor="middle">AB</text>
<text transform="translate(140.70,295.50) scale(1.0,1.15)" font-size="7.0" text-anchor="middle">B</text>
<text transform="translate(161.40,249.10) scale(1.0,1.15)" font-size="7.0" text-anchor="middle">a</text>
<text transform="translate(174.20,231.80) scale(1.0,1.15)" font-size="7.0" text-anchor="middle">cd</text>
<text transform="translate(185.90,249.50) scale(1.0,1.15)" font-size="7.0" text-anchor="middle">ab</text>
<text transform="translate(196.40,233.60) scale(1.0,1.15)" font-size="7.0" text-anchor="middle">bc</text>
<text transform="translate(218.20,253.50) scale(1.0,1.15)" font-size="7.0" text-anchor="middle">a</text>
<text transform="translate(228.40,214.80) scale(1.0,1.15)" font-size="7.0" text-anchor="middle">d</text>
<text transform="translate(240.50,240.90) scale(1.0,1.15)" font-size="7.0" text-anchor="middle">abc</text>
<text transform="translate(254.10,234.10) scale(1.0,1.15)" font-size="7.0" text-anchor="middle">abc</text>
<text x="66.24" y="353.60" font-size="7.3" text-anchor="middle">30 days</text>
<text x="66.24" y="367.00" font-size="7.3" text-anchor="middle">MMP-9/TIMP-1</text>
<text x="122.92" y="353.60" font-size="7.3" text-anchor="middle">60 days</text>
<text x="122.92" y="367.00" font-size="7.3" text-anchor="middle">MMP-9/TIMP-1</text>
<text x="179.60" y="353.60" font-size="7.3" text-anchor="middle">30 days</text>
<text x="179.60" y="367.00" font-size="7.3" text-anchor="middle">IFN-&#947;/IL-4</text>
<text x="236.28" y="353.60" font-size="7.3" text-anchor="middle">60 days</text>
<text x="236.28" y="367.00" font-size="7.3" text-anchor="middle">IFN-&#947;/IL-4</text>
<rect x="70.00" y="206.20" width="3.60" height="3.60" fill="#A9D18E" stroke="none"/>
<text x="75.10" y="210.80" font-size="7.4" text-anchor="start">control</text>
<rect x="105.10" y="206.20" width="3.60" height="3.60" fill="#9DC3E6" stroke="none"/>
<text x="110.20" y="210.80" font-size="7.4" text-anchor="start">group 1</text>
<rect x="142.00" y="206.20" width="3.60" height="3.60" fill="#F4B183" stroke="none"/>
<text x="147.10" y="210.80" font-size="7.4" text-anchor="start">group 2</text>
<rect x="179.10" y="206.20" width="3.60" height="3.60" fill="#A8A7A6" stroke="none"/>
<text x="184.20" y="210.80" font-size="7.4" text-anchor="start">group 3</text>
<text transform="translate(3.6,206.8) scale(0.93,1)" font-size="13.6" font-weight="normal" stroke-width="0.35">C</text>
<text transform="translate(16.0,280) rotate(-90)" font-size="7.6" text-anchor="middle">MMP-9/TIMP-1 and IFN-&#947;/IL-4</text>
</g>
</svg>
</body></html>
